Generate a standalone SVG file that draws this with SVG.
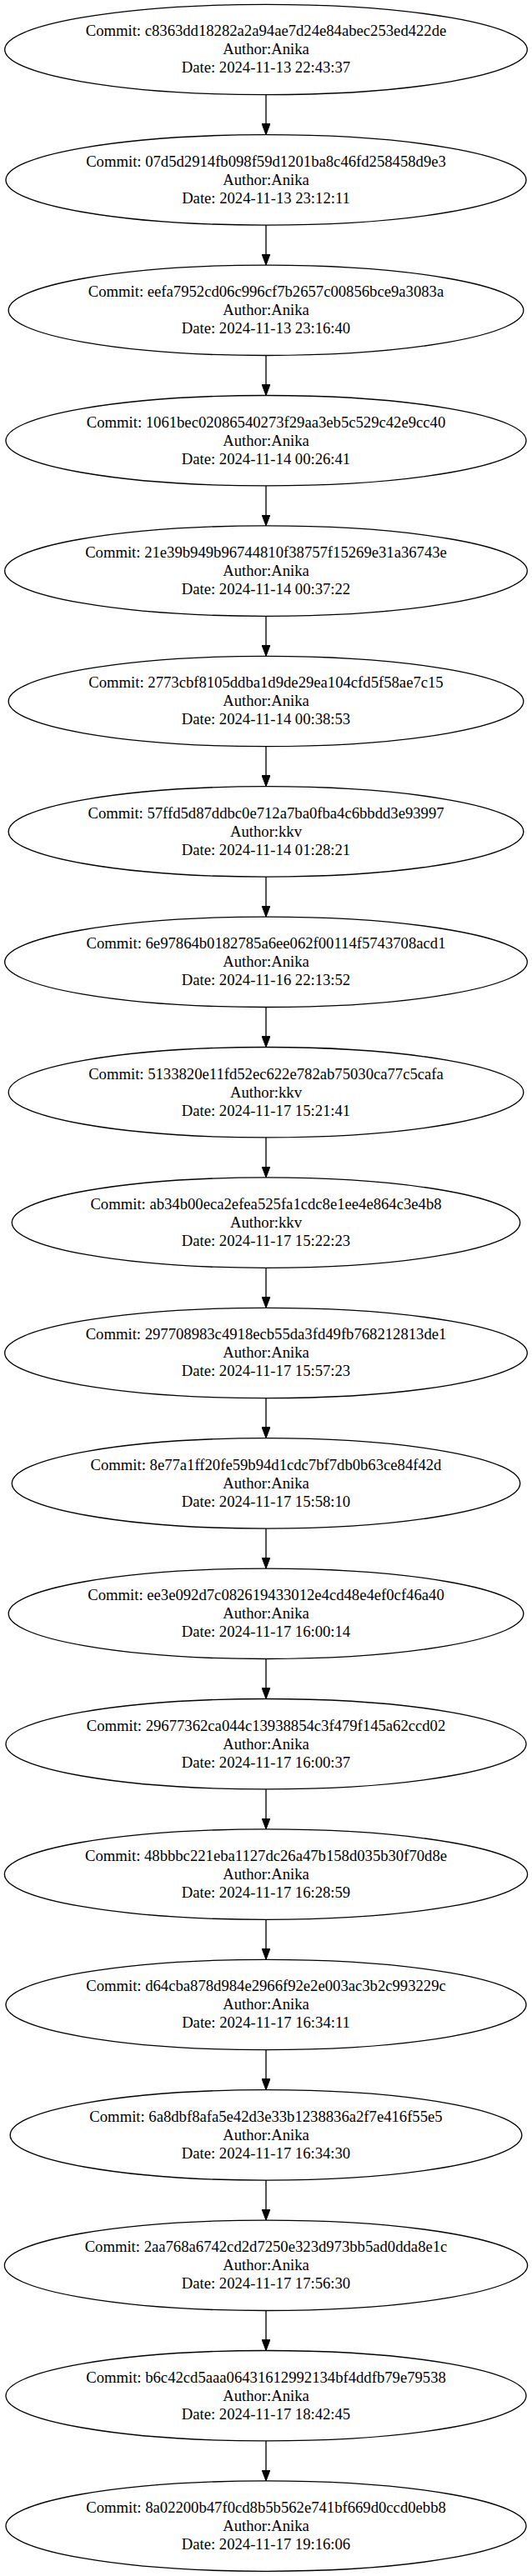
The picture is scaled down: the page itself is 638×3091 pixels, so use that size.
<svg xmlns="http://www.w3.org/2000/svg" width="638" height="3091" viewBox="0 0 638 3091">
<style>
.n ellipse{fill:#fff;stroke:#000;stroke-width:1.33}
.n text{font-family:"Liberation Serif","Times New Roman",serif;font-size:18.67px;text-anchor:middle;fill:#000}
.e line{stroke:#000;stroke-width:1.33;marker-end:url(#ah)}
</style>
<defs>
<marker id="ah" viewBox="0 0 13.33 10" refX="13.33" refY="5" markerWidth="13.33" markerHeight="10" markerUnits="userSpaceOnUse" orient="auto">
<path d="M0,0 L13.33,5 L0,10 z" fill="#000" stroke="#000" stroke-width="1"/>
</marker>
</defs>
<rect width="638" height="3091" fill="#fff"/>
<g id="edges" class="e">
<line x1="319" y1="113.7" x2="319" y2="161.7"/>
<line x1="319" y1="270.1" x2="319" y2="318.1"/>
<line x1="319" y1="426.5" x2="319" y2="474.5"/>
<line x1="319" y1="582.9" x2="319" y2="630.9"/>
<line x1="319" y1="739.3" x2="319" y2="787.3"/>
<line x1="319" y1="895.7" x2="319" y2="943.7"/>
<line x1="319" y1="1052.1" x2="319" y2="1100.1"/>
<line x1="319" y1="1208.5" x2="319" y2="1256.5"/>
<line x1="319" y1="1364.9" x2="319" y2="1412.9"/>
<line x1="319" y1="1521.3" x2="319" y2="1569.3"/>
<line x1="319" y1="1677.7" x2="319" y2="1725.7"/>
<line x1="319" y1="1834.1" x2="319" y2="1882.1"/>
<line x1="319" y1="1990.5" x2="319" y2="2038.5"/>
<line x1="319" y1="2146.9" x2="319" y2="2194.9"/>
<line x1="319" y1="2303.3" x2="319" y2="2351.3"/>
<line x1="319" y1="2459.7" x2="319" y2="2507.7"/>
<line x1="319" y1="2616.1" x2="319" y2="2664.1"/>
<line x1="319" y1="2772.5" x2="319" y2="2820.5"/>
<line x1="319" y1="2928.9" x2="319" y2="2976.9"/>
</g>
<g id="n1" class="n"><ellipse cx="319" cy="59.5" rx="313.3" ry="54.2"/><text x="319" y="43.3">Commit: c8363dd18282a2a94ae7d24e84abec253ed422de</text><text x="319" y="65.3">Author:Anika</text><text x="319" y="87.3">Date: 2024-11-13 22:43:37</text></g>
<g id="n2" class="n"><ellipse cx="319" cy="215.9" rx="312" ry="54.2"/><text x="319" y="199.7">Commit: 07d5d2914fb098f59d1201ba8c46fd258458d9e3</text><text x="319" y="221.7">Author:Anika</text><text x="319" y="243.7">Date: 2024-11-13 23:12:11</text></g>
<g id="n3" class="n"><ellipse cx="319" cy="372.3" rx="308.8" ry="54.2"/><text x="319" y="356.1">Commit: eefa7952cd06c996cf7b2657c00856bce9a3083a</text><text x="319" y="378.1">Author:Anika</text><text x="319" y="400.1">Date: 2024-11-13 23:16:40</text></g>
<g id="n4" class="n"><ellipse cx="319" cy="528.7" rx="312" ry="54.2"/><text x="319" y="512.5">Commit: 1061bec02086540273f29aa3eb5c529c42e9cc40</text><text x="319" y="534.5">Author:Anika</text><text x="319" y="556.5">Date: 2024-11-14 00:26:41</text></g>
<g id="n5" class="n"><ellipse cx="319" cy="685.1" rx="313.3" ry="54.2"/><text x="319" y="668.9">Commit: 21e39b949b96744810f38757f15269e31a36743e</text><text x="319" y="690.9">Author:Anika</text><text x="319" y="712.9">Date: 2024-11-14 00:37:22</text></g>
<g id="n6" class="n"><ellipse cx="319" cy="841.5" rx="308.8" ry="54.2"/><text x="319" y="825.3">Commit: 2773cbf8105ddba1d9de29ea104cfd5f58ae7c15</text><text x="319" y="847.3">Author:Anika</text><text x="319" y="869.3">Date: 2024-11-14 00:38:53</text></g>
<g id="n7" class="n"><ellipse cx="319" cy="997.9" rx="308.8" ry="54.2"/><text x="319" y="981.7">Commit: 57ffd5d87ddbc0e712a7ba0fba4c6bbdd3e93997</text><text x="319" y="1003.7">Author:kkv</text><text x="319" y="1025.7">Date: 2024-11-14 01:28:21</text></g>
<g id="n8" class="n"><ellipse cx="319" cy="1154.3" rx="313.3" ry="54.2"/><text x="319" y="1138.1">Commit: 6e97864b0182785a6ee062f00114f5743708acd1</text><text x="319" y="1160.1">Author:Anika</text><text x="319" y="1182.1">Date: 2024-11-16 22:13:52</text></g>
<g id="n9" class="n"><ellipse cx="319" cy="1310.7" rx="308.8" ry="54.2"/><text x="319" y="1294.5">Commit: 5133820e11fd52ec622e782ab75030ca77c5cafa</text><text x="319" y="1316.5">Author:kkv</text><text x="319" y="1338.5">Date: 2024-11-17 15:21:41</text></g>
<g id="n10" class="n"><ellipse cx="319" cy="1467.1" rx="304.7" ry="54.2"/><text x="319" y="1450.9">Commit: ab34b00eca2efea525fa1cdc8e1ee4e864c3e4b8</text><text x="319" y="1472.9">Author:kkv</text><text x="319" y="1494.9">Date: 2024-11-17 15:22:23</text></g>
<g id="n11" class="n"><ellipse cx="319" cy="1623.5" rx="313.3" ry="54.2"/><text x="319" y="1607.3">Commit: 297708983c4918ecb55da3fd49fb768212813de1</text><text x="319" y="1629.3">Author:Anika</text><text x="319" y="1651.3">Date: 2024-11-17 15:57:23</text></g>
<g id="n12" class="n"><ellipse cx="319" cy="1779.9" rx="304.7" ry="54.2"/><text x="319" y="1763.7">Commit: 8e77a1ff20fe59b94d1cdc7bf7db0b63ce84f42d</text><text x="319" y="1785.7">Author:Anika</text><text x="319" y="1807.7">Date: 2024-11-17 15:58:10</text></g>
<g id="n13" class="n"><ellipse cx="319" cy="1936.3" rx="308.8" ry="54.2"/><text x="319" y="1920.1">Commit: ee3e092d7c082619433012e4cd48e4ef0cf46a40</text><text x="319" y="1942.1">Author:Anika</text><text x="319" y="1964.1">Date: 2024-11-17 16:00:14</text></g>
<g id="n14" class="n"><ellipse cx="319" cy="2092.7" rx="312" ry="54.2"/><text x="319" y="2076.5">Commit: 29677362ca044c13938854c3f479f145a62ccd02</text><text x="319" y="2098.5">Author:Anika</text><text x="319" y="2120.5">Date: 2024-11-17 16:00:37</text></g>
<g id="n15" class="n"><ellipse cx="319" cy="2249.1" rx="313.6" ry="54.2"/><text x="319" y="2232.9">Commit: 48bbbc221eba1127dc26a47b158d035b30f70d8e</text><text x="319" y="2254.9">Author:Anika</text><text x="319" y="2276.9">Date: 2024-11-17 16:28:59</text></g>
<g id="n16" class="n"><ellipse cx="319" cy="2405.5" rx="312" ry="54.2"/><text x="319" y="2389.3">Commit: d64cba878d984e2966f92e2e003ac3b2c993229c</text><text x="319" y="2411.3">Author:Anika</text><text x="319" y="2433.3">Date: 2024-11-17 16:34:11</text></g>
<g id="n17" class="n"><ellipse cx="319" cy="2561.9" rx="306.8" ry="54.2"/><text x="319" y="2545.7">Commit: 6a8dbf8afa5e42d3e33b1238836a2f7e416f55e5</text><text x="319" y="2567.7">Author:Anika</text><text x="319" y="2589.7">Date: 2024-11-17 16:34:30</text></g>
<g id="n18" class="n"><ellipse cx="319" cy="2718.3" rx="313.6" ry="54.2"/><text x="319" y="2702.1">Commit: 2aa768a6742cd2d7250e323d973bb5ad0dda8e1c</text><text x="319" y="2724.1">Author:Anika</text><text x="319" y="2746.1">Date: 2024-11-17 17:56:30</text></g>
<g id="n19" class="n"><ellipse cx="319" cy="2874.7" rx="312" ry="54.2"/><text x="319" y="2858.5">Commit: b6c42cd5aaa06431612992134bf4ddfb79e79538</text><text x="319" y="2880.5">Author:Anika</text><text x="319" y="2902.5">Date: 2024-11-17 18:42:45</text></g>
<g id="n20" class="n"><ellipse cx="319" cy="3031.1" rx="312" ry="54.2"/><text x="319" y="3014.9">Commit: 8a02200b47f0cd8b5b562e741bf669d0ccd0ebb8</text><text x="319" y="3036.9">Author:Anika</text><text x="319" y="3058.9">Date: 2024-11-17 19:16:06</text></g>
</svg>
